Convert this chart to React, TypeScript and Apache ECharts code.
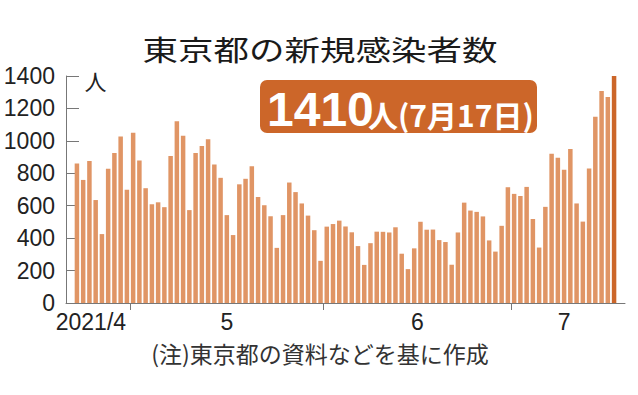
import React, { useEffect, useRef } from "react";
import * as echarts from "echarts";

// Daily new cases in Tokyo, 2021-04-22 .. 2021-07-17
const aprValues = [861, 759, 876, 635, 425, 828, 925, 1027, 698];
const mayValues = [1050, 879, 708, 609, 621, 591, 907, 1121, 1032, 573, 925, 969, 1010, 854, 772, 542, 419, 732, 766, 843, 654, 603, 535, 340, 542, 743, 684, 614, 539, 449, 260];
const junValues = [471, 487, 508, 472, 436, 351, 235, 369, 440, 439, 435, 467, 304, 209, 337, 501, 452, 453, 388, 376, 236, 435, 619, 570, 562, 534, 386, 317, 476, 714];
const julValues = [673, 660, 716, 518, 342, 593, 920, 896, 822, 950, 614, 502, 830, 1149, 1308, 1271, 1410];
const monthLabels = ["2021/4", "5", "6", "7"];
const yTicks = [0, 200, 400, 600, 800, 1000, 1200, 1400];

const title = "東京都の新規感染者数";
const unitLabel = "人";
const sourceNote = "(注)東京都の資料などを基に作成";

const SANS = "'Liberation Sans', Arial, sans-serif";
const CJK = "'Noto Sans CJK JP', 'Noto Sans', sans-serif";

export default function App() {
  const ref = useRef<HTMLDivElement>(null);
  useEffect(() => {
    if (!ref.current) return;
    const chart = echarts.init(ref.current, undefined, { renderer: "svg" });

    const months = [aprValues, mayValues, junValues, julValues];
    const values: number[] = ([] as number[]).concat(...months);
    const boundaries: number[] = [];
    const mids: number[] = [];
    let start = 0;
    months.forEach((m, k) => {
      mids.push((start + start + m.length - 1) / 2);
      if (k > 0) boundaries.push(start - 0.5);
      start += m.length;
    });
    const lastIdx = values.length - 1;
    const latest = values[lastIdx];

    const data = values.map((v, i) =>
      i === lastIdx ? { value: [i, v], itemStyle: { color: "#cc6629" } } : [i, v]
    );

    chart.setOption({
      animation: false,
      grid: { left: 66, right: 13, top: 76, bottom: 92, outerBoundsMode: "none" },
      xAxis: {
        type: "value",
        min: -1.75,
        max: 87.75,
        splitLine: { show: false },
        axisLine: { show: true, onZero: false, lineStyle: { color: "#777", width: 1 } },
        axisTick: { show: true, customValues: boundaries, length: 7, lineStyle: { color: "#777" } },
        axisLabel: {
          customValues: mids,
          margin: 7,
          fontSize: 23,
          fontFamily: SANS,
          color: "#222",
          formatter: (v: number) => {
            const k = mids.findIndex((m) => Math.abs(m - v) < 0.01);
            if (k === 0) return "{first|" + monthLabels[0] + "}";
            return k >= 0 ? monthLabels[k] : "";
          },
          rich: {
            first: { fontSize: 23, fontFamily: SANS, color: "#222", padding: [0, 22, 0, 0] },
          },
        },
      },
      yAxis: {
        type: "value",
        min: 0,
        max: 1400,
        interval: 200,
        splitLine: { show: false },
        axisLine: { show: true, onZero: false, lineStyle: { color: "#777", width: 1 } },
        axisTick: { show: true, inside: true, length: 13, lineStyle: { color: "#777" } },
        axisLabel: {
          margin: 11,
          fontSize: 23,
          fontFamily: SANS,
          color: "#222",
          formatter: (v: number) => (yTicks.includes(v) ? String(v) : ""),
        },
      },
      series: [
        {
          type: "bar",
          data,
          barWidth: 4.5,
          itemStyle: { color: "#e09565" },
        },
      ],
      graphic: [
        {
          type: "text",
          x: 320,
          y: 49,
          scaleY: 0.8,
          style: {
            text: title,
            fontSize: 35.5,
            fontFamily: CJK,
            fill: "#1a1a1a",
            textAlign: "center",
            textVerticalAlign: "middle",
          },
        },
        {
          type: "text",
          x: 95.5,
          y: 80,
          style: {
            text: unitLabel,
            fontSize: 22,
            fontFamily: CJK,
            fill: "#222",
            textAlign: "center",
            textVerticalAlign: "middle",
          },
        },
        {
          type: "rect",
          shape: { x: 260, y: 80, width: 277, height: 53, r: 7 },
          style: { fill: "#cc6629" },
        },
        {
          type: "text",
          x: 267,
          y: 109,
          style: {
            text: String(latest),
            fontSize: 48,
            fontWeight: "bold",
            fontFamily: SANS,
            fill: "#fff",
            textAlign: "left",
            textVerticalAlign: "middle",
          },
        },
        {
          type: "text",
          x: 368,
          y: 114,
          style: {
            text: `人(7月${julValues.length}日)`,
            fontSize: 30,
            fontWeight: "bold",
            fontFamily: CJK,
            fill: "#fff",
            textAlign: "left",
            textVerticalAlign: "middle",
          },
        },
        {
          type: "text",
          x: 320,
          y: 353,
          style: {
            text: sourceNote,
            fontSize: 23,
            fontFamily: CJK,
            fill: "#333",
            textAlign: "center",
            textVerticalAlign: "middle",
          },
        },
      ],
    });
    return () => chart.dispose();
  }, []);
  return (
    <div
      ref={ref}
      style={{ position: "fixed", left: 0, top: 0, width: 638, height: 395, background: "#fff" }}
    />
  );
}
